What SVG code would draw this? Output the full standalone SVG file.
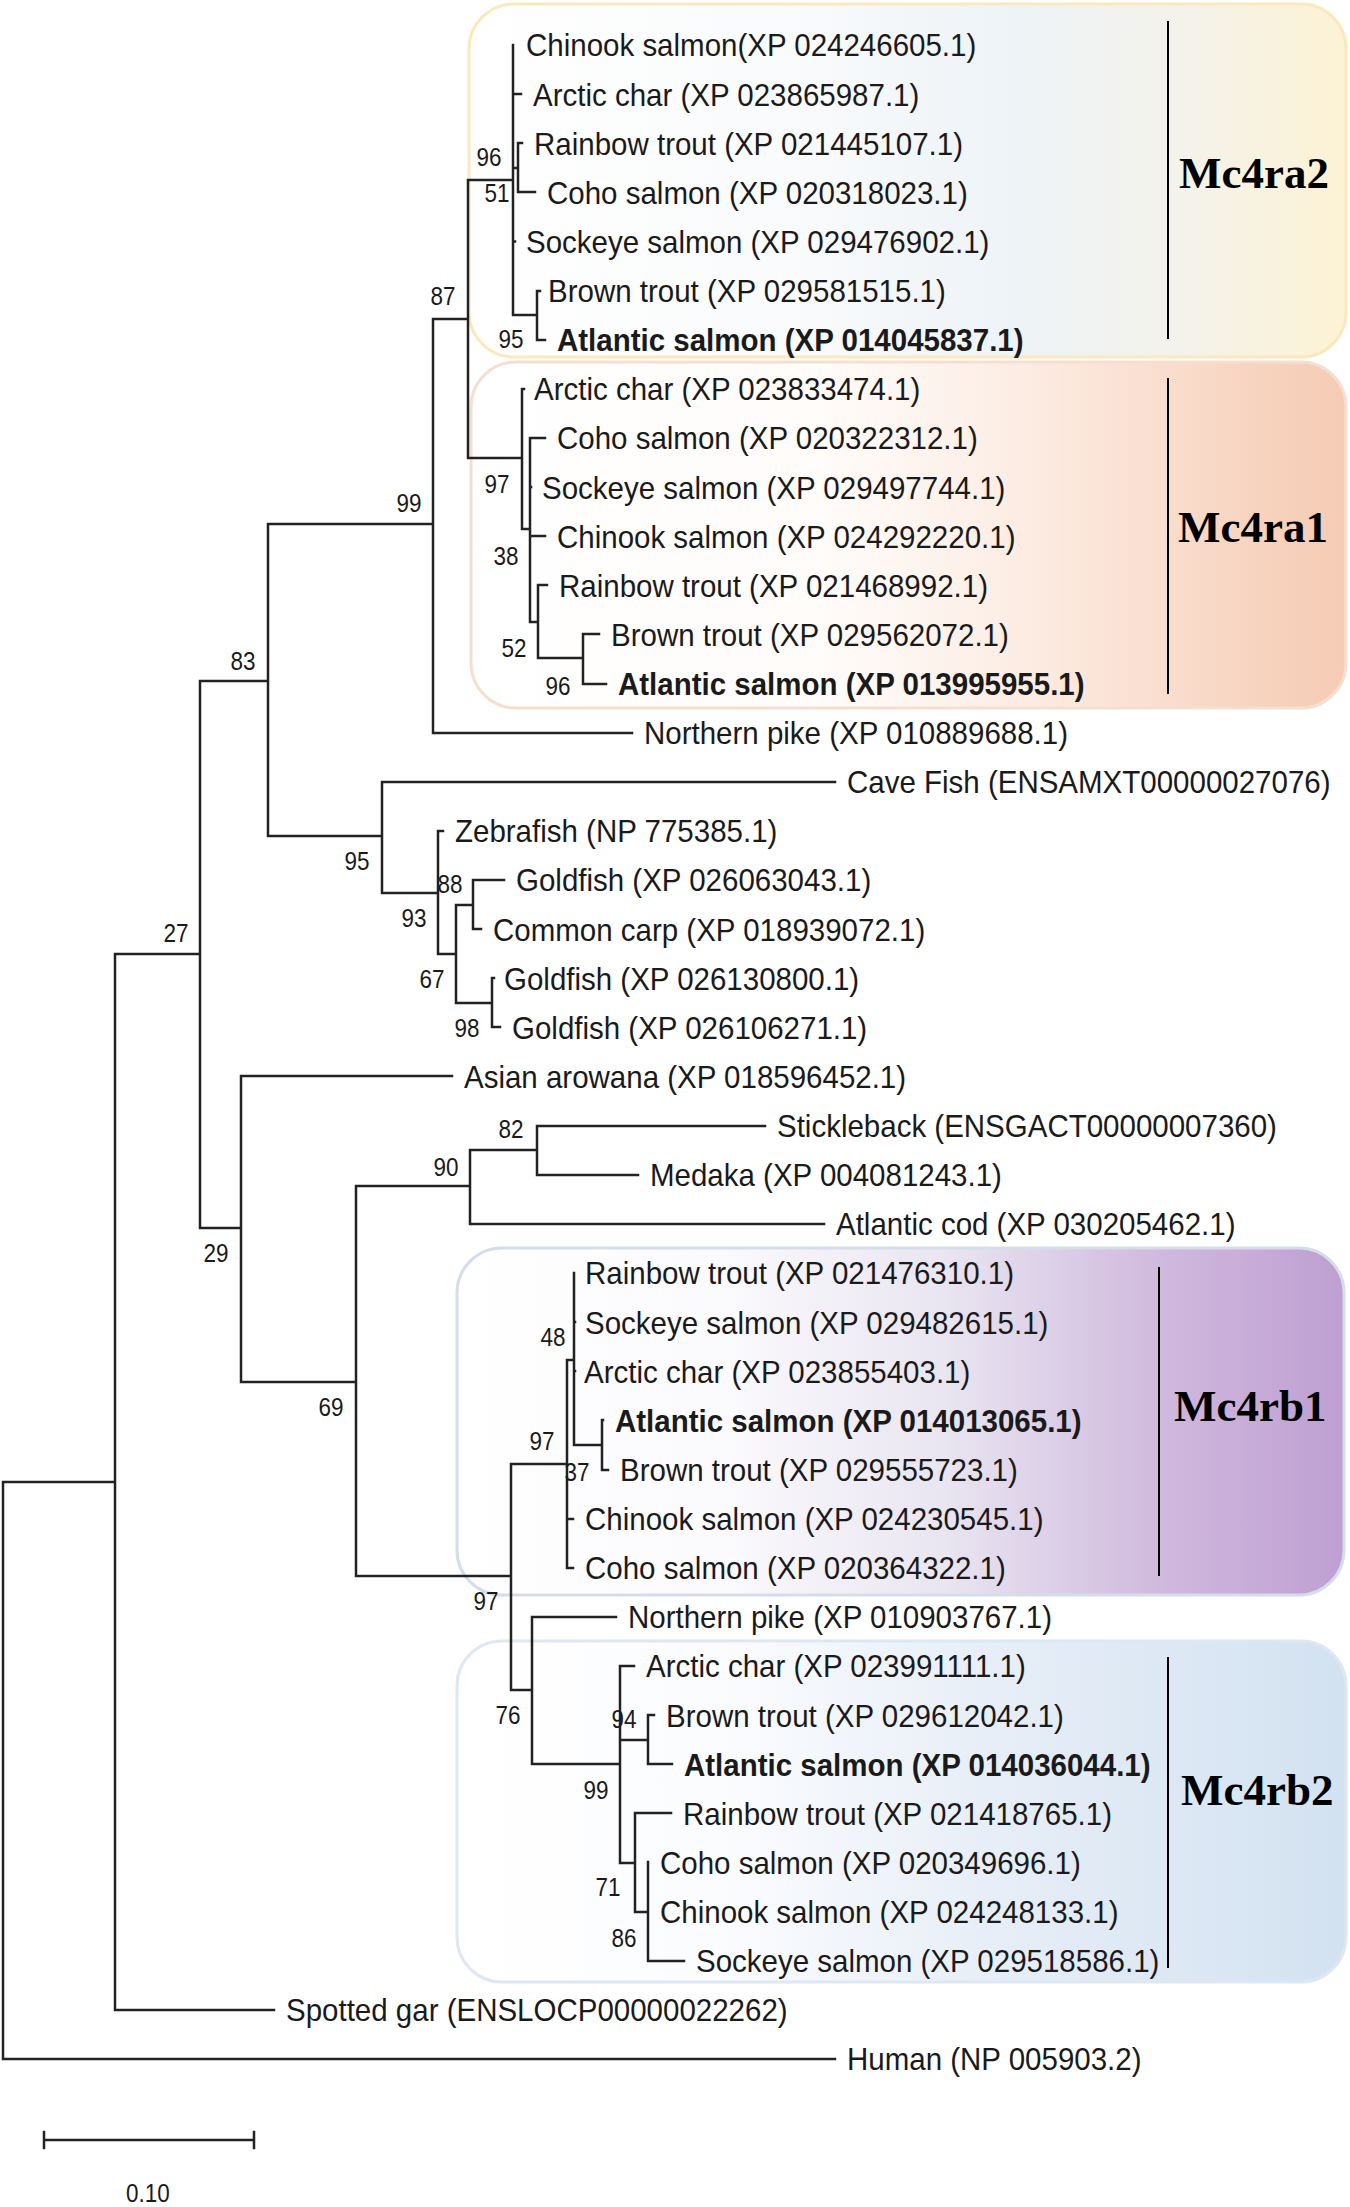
<svg xmlns="http://www.w3.org/2000/svg" width="1350" height="2207" viewBox="0 0 1350 2207">
<style>
.leaf{font-family:"Liberation Sans",Arial,sans-serif;font-size:29.5px;fill:#1a1a1a}
.b{font-weight:bold}
.bs{font-family:"Liberation Sans",Arial,sans-serif;font-size:22.5px;fill:#1a1a1a;text-anchor:middle}
.clade{font-family:"Liberation Serif","Times New Roman",serif;font-size:45px;font-weight:bold;fill:#000}
.tree{fill:none;stroke:#222;stroke-width:2.5;stroke-linecap:square}
.bar{stroke:#000;stroke-width:2}
</style>
<defs>
<linearGradient id="gA2" x1="0" y1="0" x2="1" y2="0">
<stop offset="0" stop-color="#ffffff"/><stop offset="0.35" stop-color="#fafbfc"/><stop offset="0.62" stop-color="#eef3f7"/><stop offset="0.8" stop-color="#f3f2ec"/><stop offset="1" stop-color="#fdf2d4"/>
</linearGradient>
<linearGradient id="gA1" x1="0" y1="0" x2="1" y2="0">
<stop offset="0" stop-color="#ffffff"/><stop offset="0.4" stop-color="#fffcfa"/><stop offset="0.65" stop-color="#fcebe1"/><stop offset="0.9" stop-color="#f7d3bf"/><stop offset="1" stop-color="#f5ccb4"/>
</linearGradient>
<linearGradient id="gB1" x1="0" y1="0" x2="1" y2="0">
<stop offset="0" stop-color="#ffffff"/><stop offset="0.3" stop-color="#fbfafd"/><stop offset="0.55" stop-color="#e9e5f1"/><stop offset="0.8" stop-color="#cfb8dd"/><stop offset="1" stop-color="#bf9fd2"/>
</linearGradient>
<linearGradient id="gB2" x1="0" y1="0" x2="1" y2="0">
<stop offset="0" stop-color="#ffffff"/><stop offset="0.3" stop-color="#fbfcfe"/><stop offset="0.6" stop-color="#e7eef7"/><stop offset="1" stop-color="#d3e2f1"/>
</linearGradient>
</defs>
<rect width="1350" height="2207" fill="#ffffff"/>

<g id="clade-Mc4ra2">
<rect x="469" y="4" width="877" height="353" rx="45" fill="url(#gA2)" stroke="#f9e9bd" stroke-width="3"/>
<line class="bar" x1="1168" y1="21" x2="1168" y2="339"/>
<text class="clade" x="1179" y="188">Mc4ra2</text>
</g>
<g id="clade-Mc4ra1">
<rect x="471" y="362" width="875" height="346" rx="45" fill="url(#gA1)" stroke="#f4dfd0" stroke-width="3"/>
<line class="bar" x1="1168" y1="378" x2="1168" y2="694"/>
<text class="clade" x="1178" y="542">Mc4ra1</text>
</g>
<g id="clade-Mc4rb1">
<rect x="457" y="1248" width="887" height="347" rx="45" fill="url(#gB1)" stroke="#d5ddea" stroke-width="3"/>
<line class="bar" x1="1159" y1="1267" x2="1159" y2="1576"/>
<text class="clade" x="1174" y="1421">Mc4rb1</text>
</g>
<g id="clade-Mc4rb2">
<rect x="457" y="1641" width="889" height="341" rx="45" fill="url(#gB2)" stroke="#dde8f2" stroke-width="3"/>
<line class="bar" x1="1168" y1="1657" x2="1168" y2="1968"/>
<text class="clade" x="1181" y="1805">Mc4rb2</text>
</g>

<g id="connectors">
<path class="tree" d="
M3,1482 V2059 H835 M3,1482 H115
M115,954 V2010 H274 M115,954 H200
M200,681 V1228
M200,681 H268 M268,524 V836
M268,524 H433 M433,319 V733 H632
M433,319 H468 M468,180 V458
M468,180 H513 M513,45 V315 H537
M513,94 H521 M513,241.5 H515
M513,168 H518 M518,143 V192 H535 M518,143 H522
M537,291 V340 H545 M537,291 H540
M468,458 H522 M522,389 V529 H530 M522,389 H524
M530,438 V622 H538 M530,438 H545 M530,487 H531 M530,536 H545
M538,585 V658 H583 M538,585 H547
M583,634 V684 H606 M583,634 H599
M268,836 H382 M382,782 V893 H438 M382,782 H835
M438,831 V954 H456 M438,831 H443
M456,905 V1003 H492 M456,905 H473
M473,880 V929 H481 M473,880 H504
M492,978 V1027 H500 M492,978 H494
M200,1228 H241 M241,1076 V1382 H356 M241,1076 H452
M356,1186 V1576 H511 M356,1186 H470
M470,1150 V1224 H824 M470,1150 H537
M537,1126 V1175 H638 M537,1126 H765
M511,1464 V1690 H532 M511,1464 H567
M567,1360 V1568 H573 M567,1360 H574 M567,1519 H573
M574,1273 V1445 H602 M574,1322 H575 M574,1371 H575
M602,1420 V1470 H608 M602,1420 H603
M532,1617 V1764 H620 M532,1617 H616
M620,1666 V1863 H635 M620,1666 H634 M620,1740 H648
M648,1715 V1764 H672 M648,1715 H654
M635,1813 V1912 H648 M635,1813 H671
M648,1862 V1961 H684
"/>
</g>

<g id="leaves" transform="scale(1,1.09)">
<g id="leaf1"><text class="leaf" x="526" y="51.8">Chinook salmon(XP 024246605.1)</text></g>
<g id="leaf2"><text class="leaf" x="533" y="96.9">Arctic char (XP 023865987.1)</text></g>
<g id="leaf3"><text class="leaf" x="534" y="142.0">Rainbow trout (XP 021445107.1)</text></g>
<g id="leaf4"><text class="leaf" x="547" y="187.0">Coho salmon (XP 020318023.1)</text></g>
<g id="leaf5"><text class="leaf" x="526" y="232.1">Sockeye salmon (XP 029476902.1)</text></g>
<g id="leaf6"><text class="leaf" x="548" y="277.1">Brown trout (XP 029581515.1)</text></g>
<g id="leaf7"><text class="leaf b" x="557" y="322.2">Atlantic salmon (XP 014045837.1)</text></g>
<g id="leaf8"><text class="leaf" x="534" y="367.3">Arctic char (XP 023833474.1)</text></g>
<g id="leaf9"><text class="leaf" x="557" y="412.3">Coho salmon (XP 020322312.1)</text></g>
<g id="leaf10"><text class="leaf" x="542" y="457.4">Sockeye salmon (XP 029497744.1)</text></g>
<g id="leaf11"><text class="leaf" x="557" y="502.5">Chinook salmon (XP 024292220.1)</text></g>
<g id="leaf12"><text class="leaf" x="559" y="547.5">Rainbow trout (XP 021468992.1)</text></g>
<g id="leaf13"><text class="leaf" x="611" y="592.6">Brown trout (XP 029562072.1)</text></g>
<g id="leaf14"><text class="leaf b" x="618" y="637.7">Atlantic salmon (XP 013995955.1)</text></g>
<g id="leaf15"><text class="leaf" x="644" y="682.7">Northern pike (XP 010889688.1)</text></g>
<g id="leaf16"><text class="leaf" x="847" y="727.8">Cave Fish (ENSAMXT00000027076)</text></g>
<g id="leaf17"><text class="leaf" x="455" y="772.9">Zebrafish (NP 775385.1)</text></g>
<g id="leaf18"><text class="leaf" x="516" y="817.9">Goldfish (XP 026063043.1)</text></g>
<g id="leaf19"><text class="leaf" x="493" y="863.0">Common carp (XP 018939072.1)</text></g>
<g id="leaf20"><text class="leaf" x="504" y="908.0">Goldfish (XP 026130800.1)</text></g>
<g id="leaf21"><text class="leaf" x="512" y="953.1">Goldfish (XP 026106271.1)</text></g>
<g id="leaf22"><text class="leaf" x="464" y="998.2">Asian arowana (XP 018596452.1)</text></g>
<g id="leaf23"><text class="leaf" x="777" y="1043.2">Stickleback (ENSGACT00000007360)</text></g>
<g id="leaf24"><text class="leaf" x="650" y="1088.3">Medaka (XP 004081243.1)</text></g>
<g id="leaf25"><text class="leaf" x="836" y="1133.4">Atlantic cod (XP 030205462.1)</text></g>
<g id="leaf26"><text class="leaf" x="585" y="1178.4">Rainbow trout (XP 021476310.1)</text></g>
<g id="leaf27"><text class="leaf" x="585" y="1223.5">Sockeye salmon (XP 029482615.1)</text></g>
<g id="leaf28"><text class="leaf" x="584" y="1268.6">Arctic char (XP 023855403.1)</text></g>
<g id="leaf29"><text class="leaf b" x="615" y="1313.6">Atlantic salmon (XP 014013065.1)</text></g>
<g id="leaf30"><text class="leaf" x="620" y="1358.7">Brown trout (XP 029555723.1)</text></g>
<g id="leaf31"><text class="leaf" x="585" y="1403.8">Chinook salmon (XP 024230545.1)</text></g>
<g id="leaf32"><text class="leaf" x="585" y="1448.8">Coho salmon (XP 020364322.1)</text></g>
<g id="leaf33"><text class="leaf" x="628" y="1493.9">Northern pike (XP 010903767.1)</text></g>
<g id="leaf34"><text class="leaf" x="646" y="1539.0">Arctic char (XP 023991111.1)</text></g>
<g id="leaf35"><text class="leaf" x="666" y="1584.0">Brown trout (XP 029612042.1)</text></g>
<g id="leaf36"><text class="leaf b" x="684" y="1629.1">Atlantic salmon (XP 014036044.1)</text></g>
<g id="leaf37"><text class="leaf" x="683" y="1674.2">Rainbow trout (XP 021418765.1)</text></g>
<g id="leaf38"><text class="leaf" x="660" y="1719.2">Coho salmon (XP 020349696.1)</text></g>
<g id="leaf39"><text class="leaf" x="660" y="1764.3">Chinook salmon (XP 024248133.1)</text></g>
<g id="leaf40"><text class="leaf" x="696" y="1809.3">Sockeye salmon (XP 029518586.1)</text></g>
<g id="leaf41"><text class="leaf" x="286" y="1854.4">Spotted gar (ENSLOCP00000022262)</text></g>
<g id="leaf42"><text class="leaf" x="847" y="1899.5">Human (NP 005903.2)</text></g>
</g>

<g id="bootstrap" transform="scale(1,1.18)">
<text class="bs" x="489" y="141.1">96</text>
<text class="bs" x="497" y="171.6">51</text>
<text class="bs" x="443" y="258.9">87</text>
<text class="bs" x="511" y="295.3">95</text>
<text class="bs" x="497" y="418.2">97</text>
<text class="bs" x="409" y="434.3">99</text>
<text class="bs" x="506" y="479.2">38</text>
<text class="bs" x="514" y="556.4">52</text>
<text class="bs" x="558" y="588.6">96</text>
<text class="bs" x="243" y="567.4">83</text>
<text class="bs" x="357" y="737.7">95</text>
<text class="bs" x="450" y="756.4">88</text>
<text class="bs" x="414" y="785.2">93</text>
<text class="bs" x="176" y="798.7">27</text>
<text class="bs" x="432" y="837.7">67</text>
<text class="bs" x="467" y="878.4">98</text>
<text class="bs" x="511" y="964.0">82</text>
<text class="bs" x="446" y="996.2">90</text>
<text class="bs" x="216" y="1069.9">29</text>
<text class="bs" x="553" y="1141.1">48</text>
<text class="bs" x="331" y="1200.4">69</text>
<text class="bs" x="542" y="1229.2">97</text>
<text class="bs" x="577" y="1254.7">37</text>
<text class="bs" x="486" y="1364.8">97</text>
<text class="bs" x="508" y="1461.4">76</text>
<text class="bs" x="624" y="1464.0">94</text>
<text class="bs" x="596" y="1525.0">99</text>
<text class="bs" x="608" y="1607.2">71</text>
<text class="bs" x="624" y="1649.6">86</text>
</g>

<g id="scale-bar">
<path class="tree" d="M44,2140 H254 M44,2132 V2148 M254,2132 V2148"/>
<text class="bs" x="148" y="1865.7" transform="scale(1,1.18)">0.10</text>
</g>
</svg>
